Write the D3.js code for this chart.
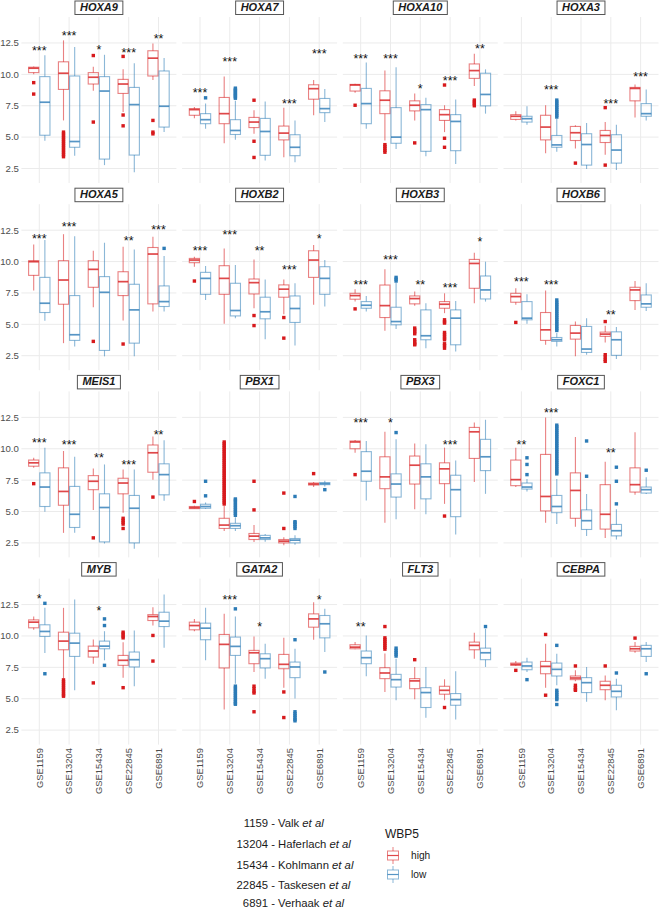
<!DOCTYPE html>
<html><head><meta charset="utf-8">
<script src="https://cdn.jsdelivr.net/npm/d3@7"></script>
<style>body{margin:0;background:#fff}svg{display:block}</style>
</head><body><svg id="c" width="659" height="909"></svg>
<script>
const genes = ["HOXA9","HOXA7","HOXA10","HOXA3","HOXA5","HOXB2","HOXB3","HOXB6","MEIS1","PBX1","PBX3","FOXC1","MYB","GATA2","FLT3","CEBPA"];
const datasets = ["GSE1159","GSE13204","GSE15434","GSE22845","GSE6891"];
const groups = ["high","low"];
const yTicks = [2.5,5,7.5,10,12.5];
const yTickLabels = ["2.5","5.0","7.5","10.0","12.5"];
const captionNums = ["1159","13204","15434","22845","6891"];
const captionAuthors = ["Valk","Haferlach","Kohlmann","Taskesen","Verhaak"];

// box stats per gene: rows = GSE1159 high, GSE1159 low, GSE13204 high, ... ; [lowerWhisker, q1, median, q3, upperWhisker]
const box_HOXA9 = [[10.0,10.14,10.49,10.57,10.62],[4.72,5.15,7.78,9.82,11.53],[6.33,8.8,10.09,11.0,12.71],[3.52,4.19,4.65,9.87,12.18],[8.7,9.23,9.77,10.14,10.6],[2.77,3.25,8.67,9.82,11.56],[7.0,8.48,9.23,9.6,10.41],[2.2,3.57,7.59,8.96,10.89],[9.55,9.87,11.29,11.88,12.45],[5.4,5.8,7.46,10.27,11.3]];
const box_HOXA7 = [[6.5,6.74,7.19,7.27,7.4],[5.67,6.07,6.39,6.87,7.67],[4.51,6.07,6.87,8.16,9.82],[4.8,5.21,5.53,6.39,7.9],[5.27,5.76,6.2,6.57,7.14],[3.14,3.55,5.45,6.49,7.83],[3.4,4.78,5.32,5.88,7.35],[3.0,3.52,4.19,5.19,6.33],[6.74,8.02,8.86,9.17,9.55],[6.2,6.95,7.27,8.08,8.83]];
const box_HOXA10 = [[8.53,8.67,9.15,9.2,9.25],[5.67,6.07,7.67,8.88,10.94],[4.73,6.87,7.94,8.69,10.3],[4.06,4.51,5.0,7.35,10.57],[6.33,7.09,7.54,7.89,8.48],[3.47,3.87,7.19,7.59,8.13],[5.4,6.33,6.79,7.19,7.54],[2.85,3.92,6.25,6.79,8.0],[9.07,9.68,10.3,10.83,11.64],[6.87,7.49,8.4,10.09,10.4]];
const box_HOXA3 = [[6.33,6.41,6.66,6.79,7.06],[5.99,6.2,6.47,6.66,7.46],[3.71,4.78,5.8,6.74,7.54],[3.84,4.19,4.38,5.13,6.45],[4.1,4.73,5.35,5.85,5.95],[2.47,2.77,4.41,5.27,6.12],[3.6,4.57,5.13,5.53,6.2],[2.39,2.93,3.97,5.19,5.99],[6.57,7.89,8.88,8.96,9.2],[6.33,6.66,6.87,7.67,8.8]];
const box_HOXA5 = [[7.69,8.9,9.99,10.07,11.36],[5.28,5.94,6.68,8.74,11.71],[3.5,6.6,8.53,10.07,12.18],[3.24,3.72,4.17,7.29,12.02],[6.36,7.95,9.38,10.07,10.86],[2.45,2.92,7.55,8.8,11.5],[5.3,7.29,8.4,9.19,11.18],[2.45,3.5,6.15,8.19,10.97],[6.02,6.63,10.6,11.12,11.97],[6.02,6.42,6.81,8.06,10.44]];
const box_HOXB2 = [[9.59,9.91,10.12,10.25,10.38],[6.94,7.39,8.66,9.14,9.64],[5.04,7.39,8.66,9.67,11.05],[5.49,5.67,6.1,8.27,9.72],[6.28,7.42,8.32,8.61,10.17],[3.82,5.44,6.0,7.16,8.58],[5.81,7.16,7.8,8.14,8.58],[3.32,5.15,6.26,7.26,8.27],[6.55,8.74,10.12,10.86,11.31],[6.42,7.39,8.66,9.59,10.12]];
const box_HOXB3 = [[6.81,7.0,7.29,7.47,7.79],[6.02,6.28,6.52,6.81,7.26],[4.48,5.54,6.49,8.13,9.38],[4.62,4.96,5.22,6.36,8.3],[6.47,6.63,7.05,7.26,7.61],[3.1,3.77,4.09,6.15,6.68],[5.89,6.28,6.6,6.81,7.47],[2.84,3.37,5.49,6.15,6.86],[6.68,7.87,9.85,10.17,10.7],[6.81,7.02,7.74,8.85,9.99]];
const box_HOXB6 = [[6.55,6.76,7.21,7.47,7.87],[5.04,5.36,5.49,6.81,7.39],[3.37,3.72,4.56,5.94,7.69],[3.24,3.64,3.77,3.95,4.3],[2.45,3.82,4.3,4.91,5.22],[2.58,2.76,3.03,4.83,5.49],[3.56,4.04,4.22,4.38,4.88],[2.24,2.53,3.77,4.4,4.78],[6.15,6.89,7.74,7.95,8.45],[6.07,6.36,6.63,7.34,8.27]];
const box_MEIS1 = [[8.48,8.61,8.88,9.1,9.28],[4.99,5.4,6.95,8.08,10.09],[3.3,5.5,6.6,8.48,9.82],[3.3,3.73,4.78,7.0,9.36],[5.13,6.74,7.41,7.86,8.43],[2.45,2.58,5.32,6.41,8.75],[4.9,6.41,7.27,7.65,8.34],[2.04,2.5,5.26,6.28,8.34],[7.54,8.13,9.68,10.3,10.97],[5.85,6.33,7.94,8.8,10.68]];
const box_PBX1 = [[5.2,5.23,5.31,5.4,5.45],[5.2,5.26,5.4,5.58,5.72],[3.44,3.65,3.92,4.46,5.45],[3.44,3.65,3.87,4.06,4.55],[2.58,2.77,3.04,3.25,3.92],[2.6,2.77,2.9,3.1,3.2],[2.31,2.5,2.64,2.77,2.95],[2.35,2.5,2.72,2.85,3.1],[6.95,7.11,7.19,7.27,7.35],[7.0,7.14,7.22,7.3,7.45]];
const box_PBX3 = [[9.68,10.0,10.54,10.62,10.7],[5.88,7.41,8.21,9.77,10.62],[4.11,6.82,7.76,9.36,11.35],[4.38,6.15,7.19,8.0,10.75],[5.18,7.19,8.69,9.42,10.41],[4.78,6.01,7.76,8.8,10.36],[5.61,7.22,8.4,8.88,10.09],[3.17,4.59,6.74,7.89,9.07],[7.35,9.23,11.35,11.7,12.1],[6.41,8.26,9.36,10.75,12.31]];
const box_FOXC1 = [[6.95,7.06,7.54,9.1,10.09],[6.6,6.79,6.95,7.27,7.6],[4.11,5.05,6.2,9.55,12.5],[4.0,4.91,5.4,6.28,7.6],[3.79,4.46,6.68,8.08,10.94],[3.04,3.57,4.27,5.13,6.39],[2.9,3.6,4.78,7.14,8.96],[2.77,3.06,3.47,3.97,5.18],[6.33,6.55,7.14,8.48,11.32],[6.39,6.47,6.74,6.95,7.73]];
const box_MYB = [[10.49,10.65,11.1,11.28,11.55],[8.64,9.96,10.36,10.89,12.24],[6.6,8.9,9.59,10.3,12.24],[5.67,8.37,9.43,10.22,12.9],[7.79,8.32,8.8,9.19,9.72],[8.06,8.98,9.19,9.59,10.38],[6.68,7.66,8.06,8.45,9.5],[6.0,7.53,8.11,8.72,10.44],[10.83,11.23,11.55,11.7,12.29],[9.06,10.75,11.18,11.89,13.3]];
const box_GATA2 = [[10.38,10.49,10.83,11.1,11.36],[8.06,9.7,10.62,11.02,12.24],[4.14,7.45,9.33,10.12,11.76],[6.2,8.45,9.17,9.91,11.55],[7.13,7.79,8.66,8.85,9.96],[6.6,7.45,8.19,8.58,9.38],[5.88,7.39,7.74,8.53,9.85],[5.01,6.68,7.53,7.92,8.98],[9.7,10.7,11.36,11.76,12.68],[8.72,9.85,10.97,11.63,12.16]];
const box_FLT3 = [[8.95,8.98,9.11,9.3,9.51],[6.79,7.79,8.27,8.8,10.04],[5.54,6.6,7.05,7.47,8.6],[4.88,5.93,6.52,6.94,8.19],[4.96,5.8,6.42,6.6,7.53],[3.48,4.3,5.49,5.88,7.53],[4.88,5.36,5.67,5.99,6.55],[3.35,4.48,4.93,5.41,7.18],[8.19,8.9,9.25,9.51,10.25],[7.53,8.11,8.66,9.03,10.57]];
const box_CEBPA = [[7.6,7.66,7.74,7.84,8.0],[7.13,7.31,7.61,7.92,8.27],[5.88,6.99,7.58,7.97,9.38],[6.07,6.81,7.34,7.84,8.58],[6.39,6.52,6.65,6.81,7.26],[4.75,5.49,6.28,6.68,7.53],[4.88,5.72,6.07,6.39,6.86],[4.09,5.14,5.59,6.07,6.6],[8.66,8.8,8.98,9.17,9.51],[7.92,8.37,8.98,9.25,9.51]];

// outliers, same row order
const out_HOXA9 = [[9.34,8.43],[],[5.4,5.25,5.1,4.95,4.8,4.65,4.5,4.35,4.2,4.05,3.9,3.75,3.6,3.44],[],[11.5,6.2],[],[11.43,6.76,5.9],[],[6.33,5.4,5.26],[]];
const out_HOXA7 = [[],[8.13],[],[8.1,8.2,8.3,8.4,8.5,8.6,8.7,8.8,8.9],[7.94,4.67,3.38],[],[],[],[],[]];
const out_HOXA10 = [[7.54],[],[4.4,4.25,4.1,3.95,3.8],[],[4.54],[],[9.15,4.91,4.19],[],[7.5,7.65,7.8,7.95],[]];
const out_HOXA3 = [[],[],[],[6.6,6.75,6.9,7.05,7.2,7.35,7.5,7.65,7.8,7.95],[2.93],[],[7.35,2.77],[],[],[]];
const out_HOXA5 = [[],[],[],[],[3.64],[],[3.43],[],[],[11.05]];
const out_HOXB2 = [[8.45],[],[],[],[5.7,4.9],[],[5.54,3.9],[],[],[]];
const out_HOXB3 = [[6.23],[],[],[8.45,8.6,8.74],[4.7,4.55,4.4,4.25,3.77,3.6,3.45,3.37],[],[5.36,5.2,5.1,4.35,4.2,4.05,3.9,3.77,3.45,3.3,3.1],[],[],[]];
const out_HOXB6 = [[5.15],[],[],[4.51,4.65,4.8,4.95,5.1,5.25,5.4,5.55,5.7,5.85,6.0,6.15,6.3,6.45,6.6,6.75,6.94],[],[],[5.22,2.58,2.4,2.2,2.05],[],[],[]];
const out_MEIS1 = [[7.22],[],[],[],[2.9],[],[4.46,4.3,4.15,4.0,3.65],[],[6.15],[]];
const out_PBX1 = [[5.8],[6.25,7.41],[5.6,5.75,5.9,6.05,6.2,6.35,6.5,6.65,6.8,6.95,7.1,7.25,7.4,7.55,7.7,7.85,8.0,8.15,8.3,8.45,8.6,8.75,8.9,9.05,9.2,9.35,9.5,9.65,9.8,9.95,10.1,10.25,10.4,10.54],[4.7,4.85,5.0,5.15,5.3,5.45,5.6,5.75,5.9,6.0],[5.13,7.41],[],[3.65,6.47],[3.65,3.8,3.95,4.1,4.19,6.2],[8.02],[6.74]];
const out_PBX3 = [[7.94],[],[],[11.29],[],[],[4.64],[],[],[]];
const out_FOXC1 = [[],[7.94,8.75,9.28],[],[8.0,8.15,8.3,8.45,8.6,8.75,8.9,9.05,9.2,9.35,9.5,9.65,9.8,9.95,10.1,10.25,10.4,10.55,10.7,10.85,11.0,11.15,11.3,11.45,11.6,11.75,11.88],[],[7.81,10.62],[],[5.61,7.41,8.53],[],[8.29]];
const out_MYB = [[],[12.6,6.99],[6.5,6.35,6.2,6.05,5.9,5.75,5.6,5.45,5.3,5.2],[],[6.26],[11.36,10.83,7.66],[10.3,10.15,10.0,9.85,5.88],[],[10.04,8.0],[]];
const out_GATA2 = [[],[],[],[12.16,6.0,5.85,5.7,5.55,5.4,5.25,5.1,4.95,4.8,4.65,4.56],[6.0,5.8,5.6,5.46,3.96],[],[5.54,3.5],[9.7,3.96,3.8,3.65,3.5,3.35,3.24],[],[7.13]];
const out_FLT3 = [[],[],[10.75,9.85,9.7,9.55,9.4,9.25,9.1,8.95],[8.4,8.55,8.7,8.85,9.03],[8.11],[],[4.3],[],[],[10.75]];
const out_CEBPA = [[7.26],[6.52],[10.12,5.28],[9.25,5.67,5.5,5.35,5.2,5.05,4.93,4.54],[7.61,6.07,5.9,5.75,5.67],[],[7.61],[7.05],[9.83],[6.99]];

// significance labels and their heights per dataset
const sig_HOXA9 = ["***","***","*","***","**"],  sigY_HOXA9 = [12.1,13.3,12.15,11.96,13.09];
const sig_HOXA7 = ["***","***","","***","***"], sigY_HOXA7 = [8.75,11.21,0,7.86,11.83];
const sig_HOXA10 = ["***","***","*","***","**"], sigY_HOXA10 = [11.48,11.48,9.07,9.68,12.29];
const sig_HOXA3 = ["","***","","***","***"], sigY_HOXA3 = [0,9.01,0,7.89,10.03];
const sig_HOXA5 = ["***","***","","**","***"], sigY_HOXA5 = [12.02,12.98,0,11.84,12.76];
const sig_HOXB2 = ["***","***","**","***","*"], sigY_HOXB2 = [11.12,12.37,11.05,9.59,12.02];
const sig_HOXB3 = ["***","***","**","***","*"], sigY_HOXB3 = [8.4,10.38,8.4,8.13,11.76];
const sig_HOXB6 = ["***","***","","**",""], sigY_HOXB6 = [8.58,8.4,0,6.02,0];
const sig_MEIS1 = ["***","***","**","***","**"], sigY_MEIS1 = [10.68,10.54,9.47,8.93,11.37];
const sig_PBX1 = ["","","","",""], sigY_PBX1 = [0,0,0,0,0];
const sig_PBX3 = ["***","*","","***",""], sigY_PBX3 = [12.29,12.29,0,10.54,0];
const sig_FOXC1 = ["**","***","","**",""], sigY_FOXC1 = [10.54,13.12,0,9.9,0];
const sig_MYB = ["*","","*","",""], sigY_MYB = [13.2,0,12.24,0,0];
const sig_GATA2 = ["","***","*","","*"], sigY_GATA2 = [0,13.13,10.97,0,13.13];
const sig_FLT3 = ["**","","","",""], sigY_FLT3 = [10.97,0,0,0,0];
const sig_CEBPA = ["","","","",""], sigY_CEBPA = [0,0,0,0,0];

const boxes = {HOXA9:box_HOXA9,HOXA7:box_HOXA7,HOXA10:box_HOXA10,HOXA3:box_HOXA3,HOXA5:box_HOXA5,HOXB2:box_HOXB2,HOXB3:box_HOXB3,HOXB6:box_HOXB6,MEIS1:box_MEIS1,PBX1:box_PBX1,PBX3:box_PBX3,FOXC1:box_FOXC1,MYB:box_MYB,GATA2:box_GATA2,FLT3:box_FLT3,CEBPA:box_CEBPA};
const outs = {HOXA9:out_HOXA9,HOXA7:out_HOXA7,HOXA10:out_HOXA10,HOXA3:out_HOXA3,HOXA5:out_HOXA5,HOXB2:out_HOXB2,HOXB3:out_HOXB3,HOXB6:out_HOXB6,MEIS1:out_MEIS1,PBX1:out_PBX1,PBX3:out_PBX3,FOXC1:out_FOXC1,MYB:out_MYB,GATA2:out_GATA2,FLT3:out_FLT3,CEBPA:out_CEBPA};
const sigs = {HOXA9:[sig_HOXA9,sigY_HOXA9],HOXA7:[sig_HOXA7,sigY_HOXA7],HOXA10:[sig_HOXA10,sigY_HOXA10],HOXA3:[sig_HOXA3,sigY_HOXA3],HOXA5:[sig_HOXA5,sigY_HOXA5],HOXB2:[sig_HOXB2,sigY_HOXB2],HOXB3:[sig_HOXB3,sigY_HOXB3],HOXB6:[sig_HOXB6,sigY_HOXB6],MEIS1:[sig_MEIS1,sigY_MEIS1],PBX1:[sig_PBX1,sigY_PBX1],PBX3:[sig_PBX3,sigY_PBX3],FOXC1:[sig_FOXC1,sigY_FOXC1],MYB:[sig_MYB,sigY_MYB],GATA2:[sig_GATA2,sigY_GATA2],FLT3:[sig_FLT3,sigY_FLT3],CEBPA:[sig_CEBPA,sigY_CEBPA]};

const colors = {high:"#D7191C", low:"#2C7BB6"};
const FONT = "'Liberation Sans', Arial, Helvetica, sans-serif";
const svg = d3.select("#c");

const colX0 = 21.4, colStep = 160.7, panelW = 155;
const rowStep = 187.2, plotTop = 17, plotH = 166;
const yDomain = [1.345, 14.57];

genes.forEach((gene, gi) => {
  const col = gi % 4, row = Math.floor(gi / 4);
  const x0 = colX0 + col * colStep;
  const top = plotTop + row * rowStep;
  const x = d3.scalePoint().domain(datasets).range([x0, x0 + panelW]).padding(0.6);
  const step = x.step();
  const dodge = d3.scaleBand().domain(groups).range([-0.375 * step, 0.375 * step]);
  const y = d3.scaleLinear().domain(yDomain).range([top + plotH, top]);
  const g = svg.append("g");

  // grid
  g.selectAll(".hg").data(yTicks).join("line")
    .attr("x1", x0).attr("x2", x0 + panelW)
    .attr("y1", d => y(d)).attr("y2", d => y(d))
    .attr("stroke", "#ebebeb").attr("stroke-width", 1);
  g.selectAll(".vg").data(datasets).join("line")
    .attr("x1", d => x(d)).attr("x2", d => x(d))
    .attr("y1", top).attr("y2", top + plotH)
    .attr("stroke", "#ebebeb").attr("stroke-width", 1);

  // strip label
  const strip = svg.append("g");
  const stripText = strip.append("text")
    .attr("x", x0 + panelW / 2).attr("y", top - 6)
    .attr("text-anchor", "middle")
    .attr("font-family", FONT).attr("font-size", 11).attr("font-weight", "bold").attr("font-style", "italic")
    .attr("fill", "#1a1a1a").text(gene);
  const tw = stripText.node().getComputedTextLength();
  strip.insert("rect", "text")
    .attr("x", x0 + panelW / 2 - tw / 2 - 5).attr("y", top - 16)
    .attr("width", tw + 10).attr("height", 13.5)
    .attr("fill", "#fff").attr("stroke", "#555").attr("stroke-width", 1);

  const stats = boxes[gene];
  const outliers = outs[gene];
  const items = [];
  datasets.forEach((ds, di) => groups.forEach((gr, k) => {
    items.push({ds, gr, s: stats[di * 2 + k], o: outliers[di * 2 + k]});
  }));

  const bw = dodge.bandwidth();
  const bg = g.selectAll(".box").data(items).join("g");
  bg.each(function(d) {
    const el = d3.select(this);
    const cx = x(d.ds) + dodge(d.gr) + bw / 2;
    const c = colors[d.gr];
    const [lw, q1, med, q3, uw] = d.s;
    el.append("line").attr("x1", cx).attr("x2", cx).attr("y1", y(q3)).attr("y2", y(uw))
      .attr("stroke", c).attr("stroke-opacity", 0.55).attr("stroke-width", 1.1);
    el.append("line").attr("x1", cx).attr("x2", cx).attr("y1", y(q1)).attr("y2", y(lw))
      .attr("stroke", c).attr("stroke-opacity", 0.55).attr("stroke-width", 1.1);
    el.append("rect").attr("x", x(d.ds) + dodge(d.gr) + 0.5).attr("width", bw - 1)
      .attr("y", y(q3)).attr("height", Math.max(0.5, y(q1) - y(q3)))
      .attr("fill", "none").attr("stroke", c).attr("stroke-opacity", 0.55).attr("stroke-width", 1.1);
    el.append("line").attr("x1", x(d.ds) + dodge(d.gr) + 0.5).attr("x2", x(d.ds) + dodge(d.gr) + bw - 0.5)
      .attr("y1", y(med)).attr("y2", y(med))
      .attr("stroke", c).attr("stroke-opacity", 0.8).attr("stroke-width", 1.7);
    el.selectAll("rect.o").data(d.o).join("rect").attr("class", "o")
      .attr("x", cx - 1.7).attr("y", v => y(v) - 1.7).attr("width", 3.4).attr("height", 3.4)
      .attr("fill", c);
  });

  // significance stars
  const [sl, sy] = sigs[gene];
  datasets.forEach((ds, di) => {
    if (!sl[di]) return;
    g.append("text").attr("x", x(ds)).attr("y", y(sy[di]) + 7)
      .attr("text-anchor", "middle").attr("font-family", FONT).attr("font-size", 12.5)
      .attr("fill", "#111").text(sl[di]);
  });

  // y axis labels on first column
  if (col === 0) {
    g.selectAll(".yl").data(yTicks).join("text")
      .attr("x", x0 - 2.5).attr("y", d => y(d)).attr("dy", "0.35em")
      .attr("text-anchor", "end").attr("font-family", FONT).attr("font-size", 9.6)
      .attr("fill", "#4d4d4d").text((d, i) => yTickLabels[i]);
  }
  // x axis labels on bottom row
  if (row === 3) {
    g.selectAll(".xl").data(datasets).join("text")
      .attr("transform", d => `translate(${x(d)},${top + plotH + 3.5}) rotate(-90)`)
      .attr("dy", "0.35em").attr("text-anchor", "end")
      .attr("font-family", FONT).attr("font-size", 9.4)
      .attr("fill", "#4d4d4d").text(d => d);
  }
});

// caption
const cap = svg.append("g").attr("font-family", FONT).attr("font-size", 11.3).attr("fill", "#1a1a1a");
const capBaselines = [826.5, 848, 869, 888.5, 906.5];
captionNums.forEach((n, i) => {
  const yy = capBaselines[i];
  cap.append("text").attr("x", 268).attr("y", yy).attr("text-anchor", "end").text(n);
  const t = cap.append("text").attr("x", 268).attr("y", yy).attr("text-anchor", "start");
  t.append("tspan").text("\u00A0-\u00A0" + captionAuthors[i] + "\u00A0");
  t.append("tspan").attr("font-style", "italic").text("et al");
});

// legend
const leg = svg.append("g").attr("font-family", FONT);
leg.append("text").attr("x", 385).attr("y", 838).attr("font-size", 12).attr("fill", "#1a1a1a").text("WBP5");
const keyY = d3.scaleBand().domain(groups).range([846, 884]);
groups.forEach(gr => {
  const cy = keyY(gr) + keyY.bandwidth() / 2;
  const c = colors[gr];
  leg.append("line").attr("x1", 393).attr("x2", 393).attr("y1", cy - 8.5).attr("y2", cy + 8.5)
    .attr("stroke", c).attr("stroke-opacity", 0.55);
  leg.append("rect").attr("x", 387.5).attr("y", cy - 4.5).attr("width", 11).attr("height", 9)
    .attr("fill", "#fff").attr("stroke", c).attr("stroke-opacity", 0.55);
  leg.append("line").attr("x1", 387.5).attr("x2", 398.5).attr("y1", cy).attr("y2", cy)
    .attr("stroke", c).attr("stroke-opacity", 0.8).attr("stroke-width", 1.2);
  leg.append("text").attr("x", 411).attr("y", cy).attr("dy", "0.35em").attr("font-size", 10.2)
    .attr("fill", "#1a1a1a").text(gr);
});
</script></body></html>
